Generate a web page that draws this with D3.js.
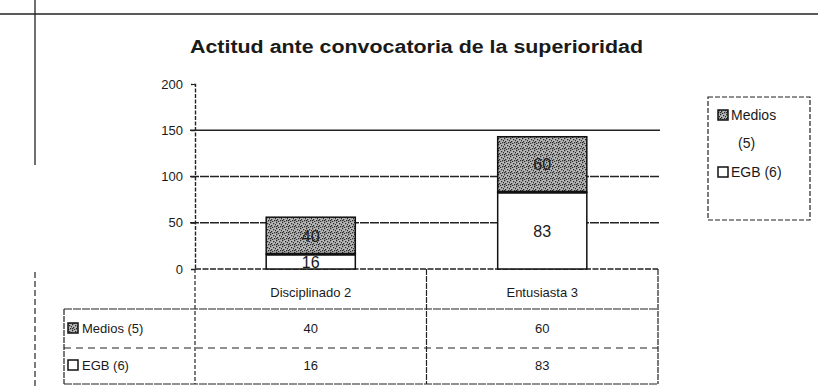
<!DOCTYPE html>
<html>
<head>
<meta charset="utf-8">
<script src="https://cdn.jsdelivr.net/npm/d3@7"></script>
<style>
  body { margin: 0; background: #fff; }
  text { font-family: "Liberation Sans", Arial, sans-serif; fill: #1a1a1a; }
</style>
</head>
<body>
<div id="main"></div>
<script>
const categories = ['Disciplinado 2', 'Entusiasta 3'];
const seriesNames = ['Medios (5)', 'EGB (6)'];
const medios = [40, 60];
const egb = [16, 83];
const yTicks = [0, 50, 100, 150, 200];
const title = 'Actitud ante convocatoria de la superioridad';

const W = 818, H = 388;
const svg = d3.select('#main').append('svg').attr('width', W).attr('height', H);

// stipple fill, like the scanned grey of the original
const defs = svg.append('defs');
const pat = defs.append('pattern').attr('id', 'stip')
  .attr('patternUnits', 'userSpaceOnUse').attr('width', 6).attr('height', 6);
pat.append('rect').attr('width', 6).attr('height', 6).attr('fill', '#b8b8b8');
[[0,0],[3,1],[1,3],[4,4],[2,5],[5,2],[0,4]].forEach(p => {
  pat.append('rect').attr('x', p[0]).attr('y', p[1]).attr('width', 1.3).attr('height', 1.3).attr('fill', '#2a2a2a');
});

// page frame lines from the scan
svg.append('line').attr('x1', 0).attr('x2', W).attr('y1', 14).attr('y2', 14)
  .attr('stroke', '#222').attr('stroke-width', 1.5);
svg.append('line').attr('x1', 35).attr('x2', 35).attr('y1', 0).attr('y2', 165)
  .attr('stroke', '#222').attr('stroke-width', 1.3);
svg.append('line').attr('x1', 35).attr('x2', 35).attr('y1', 272).attr('y2', H)
  .attr('stroke', '#222').attr('stroke-width', 1.2).attr('stroke-dasharray', '6,3');

svg.append('text').attr('x', 190).attr('y', 53)
  .attr('textLength', 453).attr('lengthAdjust', 'spacingAndGlyphs')
  .style('font-size', '18px').style('font-weight', 'bold').text(title);

const left = 195, right = 658;
const y = d3.scaleLinear().domain([0, 200]).range([269, 84]);
const x = d3.scaleBand().domain(categories).range([left, right]);
const barW = x.bandwidth() * 0.385;

// gridlines
const g = svg.append('g');
g.selectAll('.grid').data(yTicks.filter(t => t > 0 && t < 200)).join('line')
  .attr('x1', left - 5).attr('x2', right + 2)
  .attr('y1', d => y(d)).attr('y2', d => y(d))
  .attr('stroke', '#222')
  .attr('stroke-width', d => d === 150 ? 1.6 : 1.3)
  .attr('stroke-dasharray', d => d === 150 ? null : '9,1');

// y axis
const yAxis = d3.axisLeft(y).tickValues(yTicks).tickSize(4).tickPadding(8);
const ax = svg.append('g').attr('transform', `translate(${left},0)`).call(yAxis);
ax.select('.domain').attr('stroke', '#222').attr('stroke-width', 1.4).attr('stroke-dasharray', '4,1.5');
ax.selectAll('.tick line').attr('stroke', '#222');
ax.selectAll('.tick text').style('font-size', '13px').attr('fill', '#1a1a1a');

// x axis line
svg.append('line').attr('x1', left).attr('x2', right).attr('y1', y(0)).attr('y2', y(0))
  .attr('stroke', '#222').attr('stroke-width', 1.3).attr('stroke-dasharray', '6,1.5');

// stacked bars
const stackData = categories.map((c, i) => ({ cat: c, egb: egb[i], medios: medios[i] }));
const stacked = d3.stack().keys(['egb', 'medios'])(stackData);
const fills = { egb: '#fff', medios: 'url(#stip)' };

stacked.forEach(layer => {
  svg.append('g').selectAll('rect').data(layer).join('rect')
    .attr('x', d => x(d.data.cat) + (x.bandwidth() - barW) / 2)
    .attr('width', barW)
    .attr('y', d => y(d[1]))
    .attr('height', d => y(d[0]) - y(d[1]))
    .attr('fill', fills[layer.key])
    .attr('stroke', '#111').attr('stroke-width', 1.5);
});
// thick boundary between segments
svg.append('g').selectAll('line').data(stacked[0]).join('line')
  .attr('x1', d => x(d.data.cat) + (x.bandwidth() - barW) / 2)
  .attr('x2', d => x(d.data.cat) + (x.bandwidth() + barW) / 2)
  .attr('y1', d => y(d[1])).attr('y2', d => y(d[1]))
  .attr('stroke', '#111').attr('stroke-width', 3);

// value labels
stacked.forEach(layer => {
  svg.append('g').selectAll('text').data(layer).join('text')
    .attr('x', d => x(d.data.cat) + x.bandwidth() / 2)
    .attr('y', d => (y(d[0]) + y(d[1])) / 2 + 6)
    .attr('text-anchor', 'middle')
    .style('font-size', '16px')
    .text(d => d.data[layer.key]);
});

// data table
const tTop = y(0), rowLine = 309, midLine = 348, tBottom = 384, tLeft = 64;
const tbl = svg.append('g');
const ln = (x1, y1, x2, y2, dash) => tbl.append('line')
  .attr('x1', x1).attr('y1', y1).attr('x2', x2).attr('y2', y2)
  .attr('stroke', '#222').attr('stroke-width', 1.2).attr('stroke-dasharray', dash || null);
ln(left, tTop, left, tBottom, '4,2');
categories.forEach(c => ln(x(c) + x.bandwidth(), tTop, x(c) + x.bandwidth(), tBottom, '6,1'));
ln(tLeft, rowLine, right, rowLine, '8,1');
ln(tLeft, midLine, right, midLine, '7,5');
ln(tLeft, tBottom, right, tBottom, '8,1');
ln(tLeft, rowLine, tLeft, tBottom, '6,1');

tbl.selectAll('.hdr').data(categories).join('text')
  .attr('x', d => x(d) + x.bandwidth() / 2).attr('y', 297)
  .attr('text-anchor', 'middle').style('font-size', '13px').text(d => d);

const rows = [
  { name: seriesNames[0], vals: medios, fill: 'url(#stip)', cy: 329 },
  { name: seriesNames[1], vals: egb, fill: '#fff', cy: 366 }
];
rows.forEach(r => {
  tbl.append('rect').attr('x', tLeft + 4).attr('y', r.cy - 6).attr('width', 10).attr('height', 10)
    .attr('fill', r.fill).attr('stroke', '#111').attr('stroke-width', 1.5);
  tbl.append('text').attr('x', tLeft + 18).attr('y', r.cy + 4).style('font-size', '13px').text(r.name);
  tbl.selectAll(null).data(r.vals).join('text')
    .attr('x', (d, i) => x(categories[i]) + x.bandwidth() / 2).attr('y', r.cy + 4)
    .attr('text-anchor', 'middle').style('font-size', '13px').text(d => d);
});

// legend
const leg = svg.append('g');
leg.append('rect').attr('x', 708).attr('y', 97).attr('width', 102).attr('height', 123)
  .attr('fill', 'none').attr('stroke', '#222').attr('stroke-width', 1.2).attr('stroke-dasharray', '5,2');
const legItems = [
  { lines: ['Medios', '(5)'], fill: 'url(#stip)', y: 115 },
  { lines: ['EGB (6)'], fill: '#fff', y: 172 }
];
legItems.forEach(it => {
  leg.append('rect').attr('x', 718).attr('y', it.y - 5).attr('width', 10).attr('height', 10)
    .attr('fill', it.fill).attr('stroke', '#111').attr('stroke-width', 1.5);
  it.lines.forEach((l, k) => {
    leg.append('text').attr('x', k === 0 ? 731 : 738).attr('y', it.y + 5 + k * 28)
      .style('font-size', '14px').text(l);
  });
});
</script>
</body>
</html>
